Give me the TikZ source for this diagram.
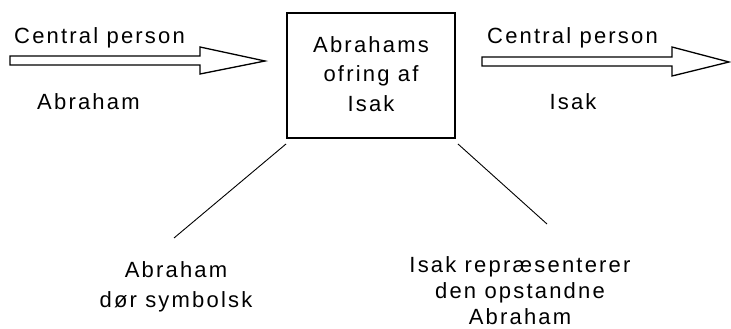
\documentclass[tikz,border=0pt]{standalone}
\usepackage{fontspec}
\setmainfont[LetterSpace=10]{Liberation Sans}
\begin{document}
\begin{tikzpicture}[x=1pt,y=-1pt,
  lbl/.style={inner sep=0pt,font=\fontsize{22}{29}\selectfont},
  fatarrow/.style={draw=black,line width=1.3pt,fill=white,line join=miter},
  thinline/.style={draw=black,line width=0.9pt}]
\useasboundingbox (0,0) rectangle (731,329);
% central box
\node[draw,line width=1.8pt,minimum width=168pt,minimum height=125pt,inner sep=0pt] (box) at (371,75.5) {};
\node[lbl,align=center,font=\fontsize{22}{29.5}\selectfont] (boxtxt) at (371,74) {Abrahams\\ofring af\\Isak};
% left arrow
\draw[fatarrow] (10,56) -- (200,56) -- (200,47) -- (265,61) -- (200,74) -- (200,65) -- (10,65) -- cycle;
\node[lbl,anchor=west] (cp1) at (14,38) {Central person};
\node[lbl,anchor=west] (ab1) at (37,102) {Abraham};
% right arrow
\draw[fatarrow] (482,57) -- (672,57) -- (672,47) -- (729,62) -- (672,76) -- (672,66) -- (482,66) -- cycle;
\node[lbl,anchor=west] (cp2) at (487,38) {Central person};
\node[lbl] (is1) at (573,102) {Isak};
% bottom texts
\node[lbl,align=center,font=\fontsize{22}{30}\selectfont] (bl) at (176,287) {Abraham\\dør symbolsk};
\node[lbl,align=center,font=\fontsize{22}{26}\selectfont] (br) at (520,291) {Isak repræsenterer\\den opstandne\\Abraham};
% connector lines
\coordinate (l1) at (174,238);
\coordinate (r1) at (547,224);
\draw[thinline] ([shift={(0,5)}]box.south west) -- (l1);
\draw[thinline] ([shift={(2,5)}]box.south east) -- (r1);
\end{tikzpicture}
\end{document}
